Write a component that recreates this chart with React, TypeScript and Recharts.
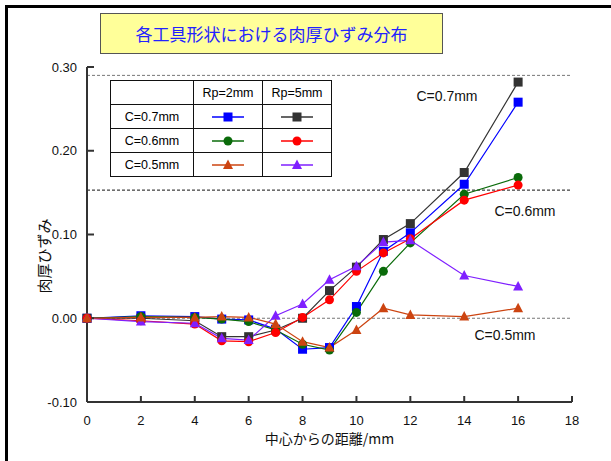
import React from 'react';
import {
    LineChart,
    Line,
    XAxis,
    YAxis,
    ReferenceLine,
    Legend,
} from 'recharts';

const distances = [0, 2, 4, 5, 6, 7, 8, 9, 10, 11, 12, 14, 16];

// Rp=2mm
const rp2c07 = [0, 0.003, 0.002, -0.001, -0.002, -0.013, -0.037, -0.035, 0.014, 0.080, 0.102, 0.160, 0.258];
const rp2c06 = [0, 0.002, 0.001, -0.001, -0.004, -0.014, -0.031, -0.038, 0.007, 0.056, 0.090, 0.148, 0.168];
const rp2c05 = [0, 0.001, 0.001, 0.002, 0.001, -0.007, -0.028, -0.035, -0.014, 0.012, 0.004, 0.002, 0.012];
// Rp=5mm
const rp5c07 = [0, 0.0, -0.003, -0.022, -0.022, -0.014, 0.0, 0.033, 0.061, 0.094, 0.113, 0.174, 0.282];
const rp5c06 = [0, -0.003, -0.007, -0.027, -0.028, -0.017, 0.001, 0.022, 0.056, 0.078, 0.095, 0.141, 0.159];
const rp5c05 = [0, -0.004, -0.006, -0.024, -0.026, 0.003, 0.017, 0.046, 0.062, 0.091, 0.093, 0.051, 0.038];

const xTicks = [0, 2, 4, 6, 8, 10, 12, 14, 16, 18];
const yTicks = [-0.1, 0, 0.1, 0.2, 0.3];

const refLines = [
    { y: 0.29, label: 'C=0.7mm', dx: 360, dy: 21, color: '#777' },
    { y: 0.153, label: 'C=0.6mm', dx: 438, dy: 21, color: '#111' },
    { y: 0, label: 'C=0.5mm', dx: 418, dy: 17, color: '#777' },
];

const series = [
    { key: 'rp2c07', values: rp2c07, color: '#0000ff', shape: 'square' },
    { key: 'rp5c07', values: rp5c07, color: '#333333', shape: 'square' },
    { key: 'rp2c06', values: rp2c06, color: '#0a6b0a', shape: 'circle' },
    { key: 'rp5c06', values: rp5c06, color: '#ff0000', shape: 'circle' },
    { key: 'rp5c05', values: rp5c05, color: '#7f1fff', shape: 'triangle' },
    { key: 'rp2c05', values: rp2c05, color: '#cc4411', shape: 'triangle' },
];

const rows = [
    { label: 'C=0.7mm', keys: ['rp2c07', 'rp5c07'] },
    { label: 'C=0.6mm', keys: ['rp2c06', 'rp5c06'] },
    { label: 'C=0.5mm', keys: ['rp2c05', 'rp5c05'] },
];

const data = distances.map((x, i) => {
    const row: Record<string, number> = { x };
    series.forEach(s => { row[s.key] = s.values[i]; });
    return row;
});

const FONT = '"Liberation Sans", Arial, sans-serif';
const JP = '"Noto Sans CJK JP", sans-serif';

const Marker = ({ cx, cy, color, shape }: any) => {
    if (cx == null || cy == null) return null;
    if (shape === 'square') return <rect x={cx - 4.5} y={cy - 4.5} width={9} height={9} fill={color} />;
    if (shape === 'circle') return <circle cx={cx} cy={cy} r={4.5} fill={color} />;
    return <polygon points={`${cx},${cy - 5.5} ${cx - 5},${cy + 4} ${cx + 5},${cy + 4}`} fill={color} />;
};

const Swatch = ({ color, shape }: any) => (
    <svg width={34} height={12}>
        <line x1={1} y1={6} x2={33} y2={6} stroke={color} strokeWidth={1.5} />
        <Marker cx={17} cy={6} color={color} shape={shape} />
    </svg>
);

const cell: React.CSSProperties = {
    border: '1.5px solid #111',
    textAlign: 'center',
    padding: 0,
    height: 23,
};

const TableLegend = () => (
    <table style={{ borderCollapse: 'collapse', fontFamily: FONT, fontSize: 12.5, background: '#fff' }}>
        <tbody>
            <tr>
                <td style={{ ...cell, width: 82 }}></td>
                <td style={{ ...cell, width: 68 }}>Rp=2mm</td>
                <td style={{ ...cell, width: 68 }}>Rp=5mm</td>
            </tr>
            {rows.map(r => (
                <tr key={r.label}>
                    <td style={cell}>{r.label}</td>
                    {r.keys.map(k => {
                        const s = series.find(ss => ss.key === k)!;
                        return (
                            <td key={k} style={{ ...cell, lineHeight: 0 }}>
                                <Swatch color={s.color} shape={s.shape} />
                            </td>
                        );
                    })}
                </tr>
            ))}
        </tbody>
    </table>
);

const RefLabel = ({ viewBox, text, dx, dy }: any) => (
    <text x={viewBox.x + dx} y={viewBox.y + dy} textAnchor="middle" dominantBaseline="central"
        fontFamily={FONT} fontSize={14} fill="#111">{text}</text>
);

const YLabel = ({ viewBox }: any) => {
    const x = viewBox.x + 6;
    const y = 256;
    return (
        <text x={x} y={y} transform={`rotate(-90 ${x} ${y})`} textAnchor="middle" dominantBaseline="central"
            fontFamily={JP} fontSize={15} fill="#111">肉厚ひずみ</text>
    );
};

const fmtY = (v: number) => v.toFixed(2);

export default function App() {
    return (
        <div style={{ position: 'absolute', left: 0, top: 0, width: 611, height: 461, overflow: 'hidden', background: '#fff' }}>
            <div style={{ position: 'absolute', left: 5, top: 5, width: 640, height: 500, border: '3px solid #000' }} />
            <div style={{
                position: 'absolute', left: 100, top: 13, width: 341, height: 39,
                background: '#ffff99', border: '1.5px solid #555',
                display: 'flex', alignItems: 'center', justifyContent: 'center',
                fontFamily: JP, fontSize: 17, color: '#2222ff',
            }}>
                各工具形状における肉厚ひずみ分布
            </div>
            <div style={{ position: 'absolute', left: 0, top: 0 }}>
                <LineChart width={611} height={461} data={data}
                    margin={{ top: 67, right: 39, bottom: 29, left: 37 }}>
                    <XAxis dataKey="x" type="number" domain={[0, 18]} ticks={xTicks} interval={0}
                        stroke="#333" strokeWidth={2} tickSize={-6} tickMargin={20}
                        tick={{ fill: '#111', fontSize: 13, fontFamily: FONT }} height={30}
                        label={{ value: '中心からの距離/mm', position: 'insideBottom', offset: -12, fill: '#111', fontSize: 14, fontFamily: JP }} />
                    <XAxis xAxisId="top" orientation="top" dataKey="x" type="number" domain={[0, 18]}
                        stroke="#333" strokeWidth={2} tick={false} tickLine={false} height={0} />
                    <YAxis type="number" domain={[-0.1, 0.3]} ticks={yTicks} interval={0} tickFormatter={fmtY}
                        stroke="#333" strokeWidth={2} tickSize={-7} tickMargin={17} width={50}
                        tick={{ fill: '#111', fontSize: 13, fontFamily: FONT }}
                        label={<YLabel />} />
                    <YAxis yAxisId="right" orientation="right" type="number" domain={[-0.1, 0.3]}
                        stroke="#333" strokeWidth={2} tick={false} tickLine={false} width={0} />
                    {refLines.map(r => (
                        <ReferenceLine key={r.label} y={r.y} stroke={r.color} strokeDasharray="3 2" strokeWidth={1}
                            label={<RefLabel text={r.label} dx={r.dx} dy={r.dy} />} />
                    ))}
                    {series.map(s => (
                        <Line key={s.key} dataKey={s.key} stroke={s.color} strokeWidth={1.2} isAnimationActive={false}
                            dot={(p: any) => <Marker key={`${s.key}-${p.index}`} cx={p.cx} cy={p.cy} color={s.color} shape={s.shape} />}
                            activeDot={false} />
                    ))}
                    <Legend layout="vertical" align="center" verticalAlign="middle" content={<TableLegend />}
                        wrapperStyle={{ position: 'absolute', left: 110, top: 80, width: 'auto' }} />
                </LineChart>
            </div>
        </div>
    );
}
